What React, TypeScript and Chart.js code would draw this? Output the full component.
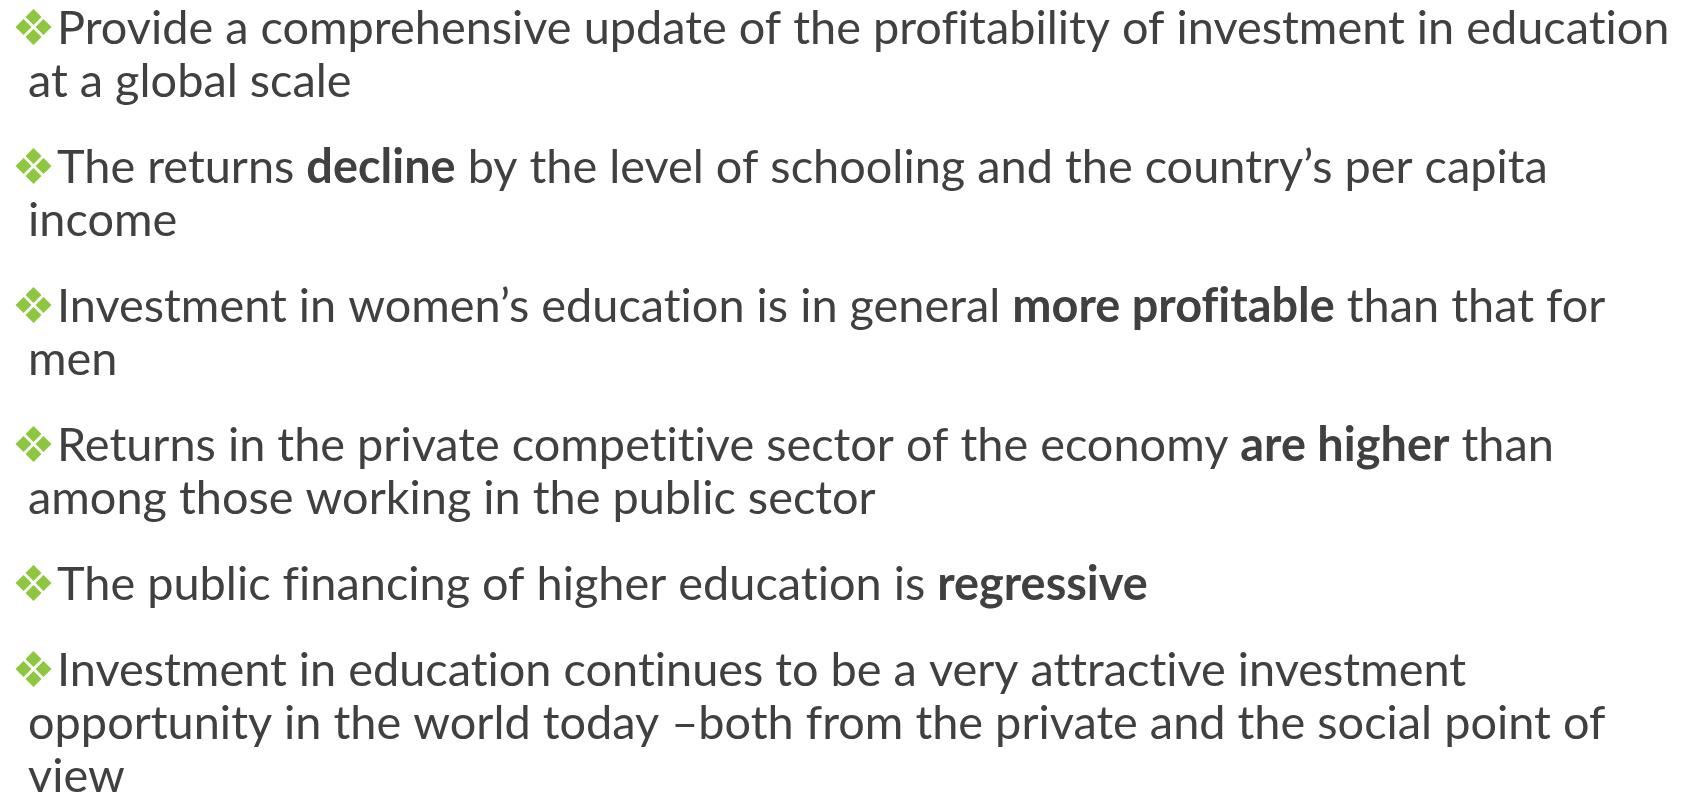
import React, { useEffect, useRef } from "react";
import { Chart, registerables } from "chart.js";

Chart.register(...registerables);

type Seg = { t: string; b?: boolean };
type Para = Seg[][];

// Slide content: each paragraph is a list of visual lines, each line a list of segments (b = bold)
const para1: Para = [
  [{ t: "Provide a comprehensive update of the profitability of investment in education" }],
  [{ t: "at a global scale" }],
];
const para2: Para = [
  [
    { t: "The returns " },
    { t: "decline", b: true },
    { t: " by the level of schooling and the country\u2019s per capita" },
  ],
  [{ t: "income" }],
];
const para3: Para = [
  [
    { t: "Investment in women\u2019s education is in general " },
    { t: "more profitable", b: true },
    { t: " than that for" },
  ],
  [{ t: "men" }],
];
const para4: Para = [
  [
    { t: "Returns in the private competitive sector of the economy " },
    { t: "are higher", b: true },
    { t: " than" },
  ],
  [{ t: "among those working in the public sector" }],
];
const para5: Para = [
  [{ t: "The public financing of higher education is " }, { t: "regressive", b: true }],
];
const para6: Para = [
  [{ t: "Investment in education continues to be a very attractive investment" }],
  [{ t: "opportunity in the world today \u2013both from the private and the social point of" }],
  [{ t: "view" }],
];

const paragraphs: Para[] = [para1, para2, para3, para4, para5, para6];

const TEXT_COLOR = "#404040";
const BULLET_COLOR = "#8DC63F";
const FONT_FAMILY = "Lato, 'Open Sans', 'Noto Sans', sans-serif";

const W = 1686;
const H = 795;

const slidePlugin = {
  id: "slideText",
  afterDraw(chart: any) {
    const ctx: any = chart.ctx;
    const firstTextX = 57;
    const indentX = 28;
    const bulletCX = 33.5;
    const firstBaseline = 44;
    const lineStep = 53;
    const paraGap = 33;
    const targetFirstWidth = 1613;

    ctx.save();
    // avoid Lato's fi/ti/ft ligatures, which the original Calibri text does not show
    try {
      ctx.textRendering = "optimizeSpeed";
      ctx.letterSpacing = "0.01px";
    } catch (e) {
      /* ignore */
    }

    const fontFor = (size: number, bold?: boolean) =>
      `${bold ? "bold " : ""}${size}px ${FONT_FAMILY}`;
    const lineWidth = (line: Seg[], size: number) => {
      let w = 0;
      for (const s of line) {
        ctx.font = fontFor(size, s.b);
        w += ctx.measureText(s.t).width;
      }
      return w;
    };

    const refSize = 44;
    const measured = lineWidth(paragraphs[0][0], refSize);
    const size = (refSize * targetFirstWidth) / measured;

    ctx.fillStyle = "#ffffff";
    ctx.fillRect(0, 0, chart.width, chart.height);

    let baseline = firstBaseline;
    paragraphs.forEach((para, pi) => {
      if (pi > 0) baseline += lineStep + paraGap;
      // bullet: four diamonds
      const cy = baseline - 17;
      const off = 10;
      const half = 8;
      ctx.fillStyle = BULLET_COLOR;
      [
        [0, -off],
        [off, 0],
        [0, off],
        [-off, 0],
      ].forEach(([dx, dy]) => {
        const x = bulletCX + dx;
        const y = cy + dy;
        ctx.beginPath();
        ctx.moveTo(x, y - half);
        ctx.lineTo(x + half, y);
        ctx.lineTo(x, y + half);
        ctx.lineTo(x - half, y);
        ctx.closePath();
        ctx.fill();
      });

      para.forEach((line, li) => {
        if (li > 0) baseline += lineStep;
        let x = li === 0 ? firstTextX : indentX;
        ctx.fillStyle = TEXT_COLOR;
        ctx.textBaseline = "alphabetic";
        ctx.textAlign = "left";
        for (const s of line) {
          ctx.font = fontFor(size, s.b);
          ctx.fillText(s.t, x, baseline);
          x += ctx.measureText(s.t).width;
        }
      });
    });
    ctx.restore();
  },
};

export default function App() {
  const ref = useRef<HTMLCanvasElement | null>(null);

  useEffect(() => {
    if (!ref.current) return;
    const chart = new Chart(ref.current, {
      type: "scatter",
      data: { datasets: [] },
      options: {
        animation: false,
        responsive: false,
        devicePixelRatio: 1,
        layout: { padding: 0 },
        scales: { x: { display: false }, y: { display: false } },
        plugins: { legend: { display: false }, tooltip: { enabled: false } },
      },
      plugins: [slidePlugin],
    });
    return () => chart.destroy();
  }, []);

  return (
    <div
      style={{
        position: "fixed",
        left: 0,
        top: 0,
        width: W,
        height: H,
        background: "#ffffff",
        overflow: "hidden",
      }}
    >
      <canvas ref={ref} width={W} height={H} style={{ width: W, height: H, display: "block" }} />
    </div>
  );
}
